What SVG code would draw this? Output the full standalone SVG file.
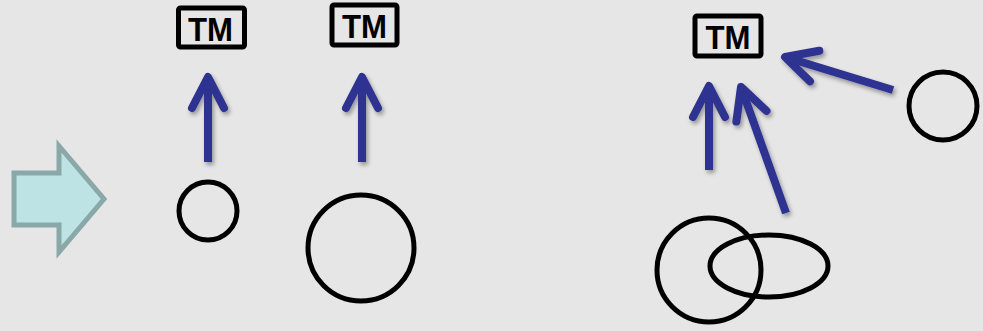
<svg xmlns="http://www.w3.org/2000/svg" width="983" height="331" viewBox="0 0 983 331">
<defs>
<style>
.tm rect{fill:none;stroke:#000;stroke-width:5;}
.tm text{font-family:"Liberation Sans",Arial,sans-serif;font-weight:bold;font-size:33px;fill:#000;text-anchor:middle;}
.shape{fill:none;stroke:#000;stroke-width:5;}
.conn path{fill:none;stroke:#2e3191;stroke-width:8;stroke-linejoin:round;}
</style>
<marker id="head" markerUnits="userSpaceOnUse" markerWidth="60" markerHeight="60" refX="0" refY="0" viewBox="-40 -30 60 60" orient="auto" overflow="visible">
<path d="M -31,-16 L 0,0 L -31,16" fill="none" stroke="#2e3191" stroke-width="8" stroke-linecap="round" stroke-linejoin="round"/>
</marker>
<filter id="sh" x="-50%" y="-50%" width="200%" height="200%">
<feDropShadow dx="2" dy="3" stdDeviation="2" flood-color="#000" flood-opacity="0.35"/>
</filter>
</defs>
<rect width="983" height="331" fill="#e6e6e6"/>
<g id="bigArrow">
<polygon points="14,173 59,173 59,146 104,199 59,252 59,225 14,225" fill="#bde3e5" stroke="#8aa8a8" stroke-width="5" stroke-linejoin="miter"/>
</g>
<g id="tm1" class="tm"><rect x="178.5" y="8" width="66" height="39" rx="2"/><text x="210.5" y="40.5" textLength="45" lengthAdjust="spacingAndGlyphs">TM</text></g>
<g id="tm2" class="tm"><rect x="332" y="5" width="65" height="40" rx="2"/><text x="364.5" y="38" textLength="45" lengthAdjust="spacingAndGlyphs">TM</text></g>
<g id="tm3" class="tm"><rect x="695" y="16" width="66" height="40" rx="2"/><text x="728" y="49" textLength="45" lengthAdjust="spacingAndGlyphs">TM</text></g>
<g id="circle1"><circle class="shape" cx="208" cy="211" r="29"/></g>
<g id="circle2"><circle class="shape" cx="361" cy="248" r="53"/></g>
<g id="circle3"><circle class="shape" cx="943" cy="106" r="34"/></g>
<g id="circle4"><circle class="shape" cx="709" cy="270" r="52"/></g>
<g id="ellipse1"><ellipse class="shape" cx="769" cy="266" rx="59" ry="31"/></g>
<g class="conn" filter="url(#sh)">
<path d="M 208,162 L 208,77" marker-end="url(#head)"/>
<path d="M 362,162 L 362,77" marker-end="url(#head)"/>
<path d="M 709,170 L 709,86" marker-end="url(#head)"/>
<path d="M 786,213 L 741,87" marker-end="url(#head)"/>
<path d="M 893,90 L 785,57" marker-end="url(#head)"/>
</g>
</svg>
